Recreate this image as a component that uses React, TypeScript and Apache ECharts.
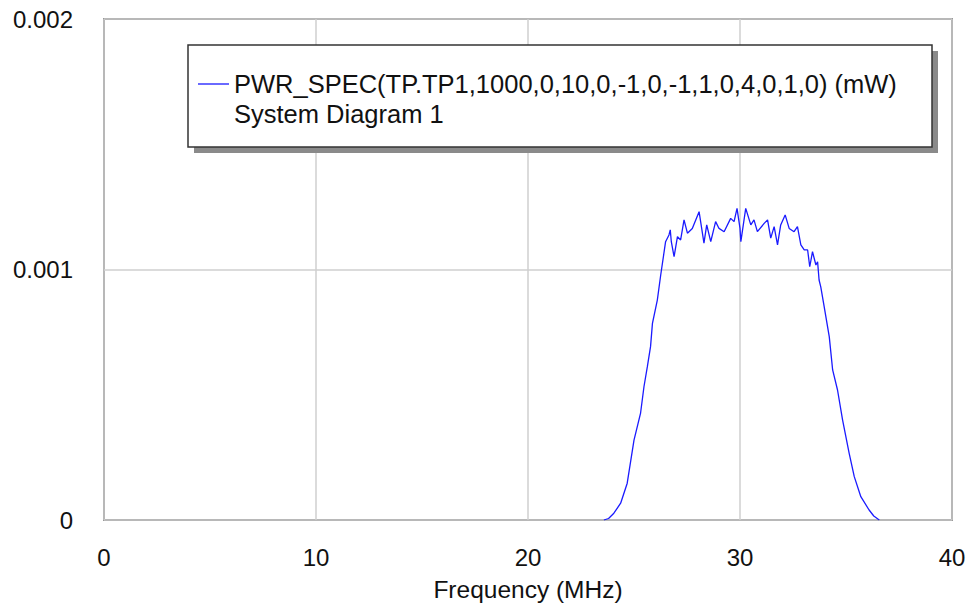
import React, { useEffect, useRef } from "react";
import * as echarts from "echarts";

const xTicks = [0, 10, 20, 30, 40];
const yTicks = [0, 0.001, 0.002];

const freqMHz = [
  23.58, 23.8, 24.05, 24.37, 24.68, 25.0, 25.31, 25.47, 25.63, 25.78, 25.87, 26.1, 26.26,
  26.49, 26.65, 26.71, 26.76, 26.89, 27.05, 27.2, 27.36, 27.52, 27.75, 28.07, 28.3, 28.43,
  28.62, 28.85, 29.01, 29.25, 29.56, 29.72, 29.86, 30.0, 30.04, 30.27, 30.51, 30.66, 30.82,
  31.14, 31.3, 31.45, 31.61, 31.77, 31.92, 32.13, 32.32, 32.55, 32.71, 32.87, 33.03, 33.19,
  33.29, 33.42, 33.58, 33.66, 33.73, 33.81, 33.97, 34.21, 34.37, 34.6, 34.84, 35.15, 35.39,
  35.7, 36.09, 36.31, 36.57,
];

const powerMW = [
  0, 0.000006, 0.000027, 0.000067, 0.000147, 0.000319, 0.000427, 0.000532, 0.000612, 0.000692,
  0.000785, 0.000878, 0.000978, 0.001111, 0.001138, 0.001158, 0.001111, 0.001051, 0.001131,
  0.001118, 0.001198, 0.001145, 0.001164, 0.001231, 0.001105, 0.001178, 0.001111, 0.001191,
  0.001164, 0.001151, 0.001204, 0.001191, 0.001244, 0.001164, 0.001111, 0.001244, 0.001178,
  0.001198, 0.001151, 0.001184, 0.001198, 0.001125, 0.001171, 0.001098, 0.001178, 0.001218,
  0.001164, 0.001151, 0.001171, 0.001098, 0.001078, 0.001078, 0.001011, 0.001071, 0.001018,
  0.001031, 0.000958, 0.000931, 0.000852, 0.000732, 0.000599, 0.000519, 0.000399, 0.000266,
  0.000173, 0.000093, 0.00004, 0.000016, 0,
];

const legendLine1 = "PWR_SPEC(TP.TP1,1000,0,10,0,-1,0,-1,1,0,4,0,1,0) (mW)";
const legendLine2 = "System Diagram 1";
const xAxisName = "Frequency (MHz)";

const FONT = "'Liberation Sans', Arial, sans-serif";

export default function App() {
  const ref = useRef<HTMLDivElement>(null);

  useEffect(() => {
    if (!ref.current) return;
    const chart = echarts.init(ref.current, undefined, { renderer: "svg" });
    const data = freqMHz.map((f, i) => [f, powerMW[i]]);
    chart.setOption({
      animation: false,
      backgroundColor: "#ffffff",
      grid: {
        left: 104,
        right: 16,
        top: 19,
        bottom: 84,
        show: true,
        borderColor: "#4a4a4a",
        borderWidth: 1.5,
        backgroundColor: "transparent",
        outerBoundsMode: "none",
        containLabel: false,
      },
      xAxis: {
        type: "value",
        min: xTicks[0],
        max: xTicks[xTicks.length - 1],
        interval: 10,
        name: xAxisName,
        nameLocation: "middle",
        nameGap: 57,
        nameTextStyle: { fontFamily: FONT, fontSize: 24.5, color: "#111" },
        axisLine: { show: false },
        axisTick: { show: false },
        axisLabel: {
          margin: 25,
          fontFamily: FONT,
          fontSize: 24,
          color: "#111",
        },
        splitLine: { show: true, lineStyle: { color: "#cfcfcf", width: 1.5 } },
      },
      yAxis: {
        type: "value",
        min: yTicks[0],
        max: yTicks[yTicks.length - 1],
        interval: 0.001,
        axisLine: { show: false },
        axisTick: { show: false },
        axisLabel: {
          margin: 31,
          fontFamily: FONT,
          fontSize: 24,
          color: "#111",
          formatter: (v: number) => (v === 0 ? "0" : v.toFixed(3)),
        },
        splitLine: { show: true, lineStyle: { color: "#cfcfcf", width: 1.5 } },
      },
      series: [
        {
          type: "line",
          data,
          showSymbol: false,
          lineStyle: { color: "#1a1aff", width: 1.3 },
          z: 3,
        },
      ],
      graphic: [
        {
          type: "rect",
          shape: { x: 194, y: 51, width: 744, height: 102 },
          style: { fill: "#8a8a8a" },
          z: 10,
        },
        {
          type: "rect",
          shape: { x: 188, y: 45, width: 744, height: 102 },
          style: { fill: "#ffffff", stroke: "#333333", lineWidth: 1.5 },
          z: 11,
        },
        {
          type: "line",
          shape: { x1: 198, y1: 84, x2: 229, y2: 84 },
          style: { stroke: "#1a1aff", lineWidth: 1.3 },
          z: 12,
        },
        {
          type: "text",
          x: 234,
          y: 84,
          style: {
            text: legendLine1,
            font: `25.5px ${FONT}`,
            fill: "#111",
            verticalAlign: "middle",
            align: "left",
          },
          z: 12,
        },
        {
          type: "text",
          x: 234,
          y: 114,
          style: {
            text: legendLine2,
            font: `25.5px ${FONT}`,
            fill: "#111",
            verticalAlign: "middle",
            align: "left",
          },
          z: 12,
        },
      ],
    });
    return () => chart.dispose();
  }, []);

  return <div ref={ref} style={{ width: 968, height: 604, position: "fixed", left: 0, top: 0 }} />;
}
